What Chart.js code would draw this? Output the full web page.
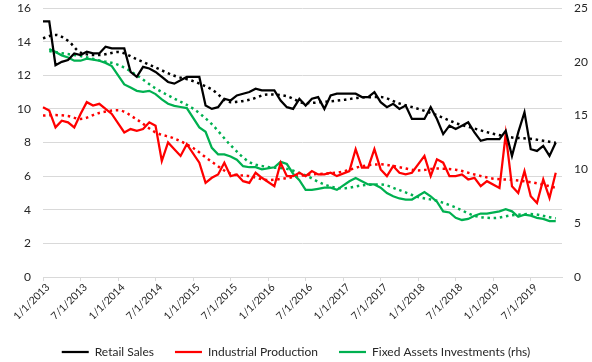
<!DOCTYPE html>
<html>
<head>
<meta charset="utf-8">
<script src="https://cdn.jsdelivr.net/npm/chart.js@4.4.1/dist/chart.umd.min.js"></script>
<style>
  html, body { margin: 0; background: #fff; }
  #wrap { width: 592px; height: 362px; }
</style>
</head>
<body>
<div id="wrap"><canvas id="chart"></canvas></div>
<script>
// monthly categories, Jan 2013 .. Dec 2019
const months = [];
for (let y = 2013; y <= 2019; y++) {
    for (let m = 1; m <= 12; m++) months.push(m + '/1/' + y);
}

const retailSales = [
    15.2, 15.2, 12.6, 12.8, 12.9, 13.3, 13.2, 13.4, 13.3, 13.3, 13.7, 13.6,
    13.6, 13.6, 12.2, 11.9, 12.5, 12.4, 12.2, 11.9, 11.6, 11.5, 11.7, 11.9,
    11.9, 11.9, 10.2, 10.0, 10.1, 10.6, 10.5, 10.8, 10.9, 11.0, 11.2, 11.1,
    11.1, 11.1, 10.5, 10.1, 10.0, 10.6, 10.2, 10.6, 10.7, 10.0, 10.8, 10.9,
    10.9, 10.9, 10.9, 10.7, 10.7, 11.0, 10.4, 10.1, 10.3, 10.0, 10.2, 9.4,
    9.4, 9.4, 10.1, 9.4, 8.5, 9.0, 8.8, 9.0, 9.2, 8.6, 8.1, 8.2,
    8.2, 8.2, 8.7, 7.2, 8.6, 9.8, 7.6, 7.5, 7.8, 7.2, 8.0, null
];

const industrialProduction = [
    10.1, 9.9, 8.9, 9.3, 9.2, 8.9, 9.7, 10.4, 10.2, 10.3, 10.0, 9.7,
    null, 8.6, 8.8, 8.7, 8.8, 9.2, 9.0, 6.9, 8.0, 7.6, 7.2, 7.9,
    null, 6.8, 5.6, 5.9, 6.1, 6.8, 6.0, 6.1, 5.7, 5.6, 6.2, 5.9,
    null, 5.4, 6.8, 6.0, 6.0, 6.2, 6.0, 6.3, 6.1, 6.1, 6.2, 6.0,
    null, 6.3, 7.6, 6.5, 6.5, 7.6, 6.4, 6.0, 6.6, 6.2, 6.1, 6.2,
    null, 7.2, 6.0, 7.0, 6.8, 6.0, 6.0, 6.1, 5.8, 5.9, 5.4, 5.7,
    null, 5.3, 8.5, 5.4, 5.0, 6.3, 4.8, 4.4, 5.8, 4.7, 6.2, null
];

const fixedAssets = [
    null, 21.2, 20.9, 20.6, 20.4, 20.1, 20.1, 20.3, 20.2, 20.1, 19.9, 19.6,
    null, 17.9, 17.6, 17.3, 17.2, 17.3, 17.0, 16.5, 16.1, 15.9, 15.8, 15.7,
    null, 13.9, 13.5, 12.0, 11.4, 11.4, 11.2, 10.9, 10.3, 10.2, 10.2, 10.0,
    null, 10.2, 10.7, 10.5, 9.6, 9.0, 8.1, 8.1, 8.2, 8.3, 8.3, 8.1,
    null, 8.9, 9.2, 8.9, 8.6, 8.6, 8.3, 7.8, 7.5, 7.3, 7.2, 7.2,
    null, 7.9, 7.5, 7.0, 6.1, 6.0, 5.5, 5.3, 5.4, 5.7, 5.9, 5.9,
    null, 6.1, 6.3, 6.1, 5.6, 5.8, 5.7, 5.5, 5.4, 5.2, 5.2, null
];

// dotted trend lines, every few months
const trendMonths = [0, 2, 4, 6, 9, 12, 15, 18, 21, 24, 27, 30, 33, 36, 39, 42,
    45, 48, 51, 54, 57, 60, 63, 66, 69, 72, 75, 78, 81, 82];
const retailTrend = [14.2, 14.4, 14.05, 13.35, 13.2, 13.38, 12.95, 12.46, 11.97, 11.65, 11.15,
    10.4, 10.54, 10.86, 10.75, 10.34, 10.42, 10.53, 10.68, 10.7, 10.32,
    10.0, 9.62, 9.16, 8.83, 8.52, 8.3, 8.22, 8.04, 7.98];
const industryTrend = [9.6, 9.63, 9.57, 9.4, 9.76, 9.92, 9.37, 8.6, 8.24, 7.67, 6.85,
    6.15, 6.0, 5.77, 5.88, 6.07, 6.15, 6.27, 6.59, 6.7, 6.53,
    6.34, 6.45, 6.38, 6.1, 5.85, 5.78, 5.64, 5.4, 5.3];
const fixedTrendMonths = [1, 3, 6, 9, 12, 15, 18, 21, 24, 27, 30, 33, 36, 39, 42,
    45, 48, 51, 54, 57, 60, 63, 66, 69, 72, 75, 78, 81, 82];
const fixedTrend = [21.0, 20.8, 20.53, 20.13, 19.72, 18.75, 17.53, 16.58, 15.65, 14.2,
    12.25, 10.68, 10.22, 10.05, 9.44, 8.6, 8.24, 8.51, 8.6, 8.07,
    7.43, 7.08, 6.46, 5.69, 5.48, 5.74, 5.85, 5.56, 5.45];

const leftTicks = [0, 2, 4, 6, 8, 10, 12, 14, 16];
const rightTicks = [0, 5, 10, 15, 20, 25];

const gridColor = '#d9d9d9';
const textColor = '#262626';
const clear = 'rgba(0,0,0,0)';

function trendPoints(idx, vals) {
    return idx.map((m, k) => ({ x: months[m], y: vals[k] }));
}

function mainLine(label, data, color, axis) {
    return {
        label: label, data: data, yAxisID: axis,
        borderColor: color, backgroundColor: color,
        borderWidth: 2.25, pointRadius: 0, spanGaps: true, tension: 0
    };
}

function trendLine(data, color, axis) {
    return {
        label: 'trend', data: data, yAxisID: axis,
        borderColor: color, borderWidth: 2.5, borderDash: [2.5, 3.7],
        pointRadius: 0, cubicInterpolationMode: 'monotone', spanGaps: true
    };
}

// push the legend down a little, the way the original sits
const legendShift = {
    id: 'legendShift',
    afterLayout(chart) {
        if (chart.legend) {
            chart.legend.top += 6;
            chart.legend.bottom += 6;
        }
    }
};

new Chart(document.getElementById('chart'), {
    type: 'line',
    data: {
        labels: months,
        datasets: [
            mainLine('Retail Sales', retailSales, '#000000', 'y'),
            mainLine('Industrial Production', industrialProduction, '#ff0000', 'y'),
            mainLine('Fixed Assets Investments (rhs)', fixedAssets, '#00b050', 'y2'),
            trendLine(trendPoints(trendMonths, retailTrend), '#000000', 'y'),
            trendLine(trendPoints(trendMonths, industryTrend), '#ff0000', 'y'),
            trendLine(trendPoints(fixedTrendMonths, fixedTrend), '#00b050', 'y2')
        ]
    },
    plugins: [legendShift],
    options: {
        responsive: true,
        maintainAspectRatio: false,
        animation: false,
        layout: { padding: { top: 8, left: 0, right: 0, bottom: 0 } },
        font: { family: 'Lato', size: 12 },
        plugins: {
            tooltip: { enabled: false },
            legend: {
                position: 'bottom',
                labels: {
                    color: textColor,
                    font: { family: 'Lato', size: 12 },
                    usePointStyle: true,
                    pointStyle: 'line',
                    pointStyleWidth: 27,
                    padding: 21,
                    filter: item => item.datasetIndex < 3
                }
            }
        },
        scales: {
            x: {
                offset: false,
                grid: {
                    display: true,
                    drawOnChartArea: false,
                    drawTicks: true,
                    tickLength: 4,
                    tickColor: ctx => (ctx.index % 6 === 0 ? gridColor : clear)
                },
                border: { display: true, color: gridColor },
                ticks: {
                    autoSkip: false,
                    maxRotation: 45,
                    minRotation: 45,
                    padding: 0,
                    labelOffset: 5,
                    color: textColor,
                    font: { family: 'Lato', size: 10.5 },
                    callback: function (val, i) { return i % 6 === 0 ? months[i] : ''; }
                },
                afterFit: scale => { scale.height = 42; }
            },
            y: {
                position: 'left',
                min: 0, max: 16,
                afterBuildTicks: scale => { scale.ticks = leftTicks.map(v => ({ value: v })); },
                grid: { color: gridColor, drawTicks: true, tickLength: 12, tickColor: clear },
                border: { display: false },
                ticks: { padding: 0, color: textColor, font: { family: 'Lato', size: 12 } },
                afterFit: scale => { scale.width = 43; }
            },
            y2: {
                position: 'right',
                min: 0, max: 25,
                afterBuildTicks: scale => { scale.ticks = rightTicks.map(v => ({ value: v })); },
                grid: { display: false, drawTicks: true, tickLength: 12 },
                border: { display: false },
                ticks: { padding: 0, color: textColor, font: { family: 'Lato', size: 12 } },
                afterFit: scale => { scale.width = 30; }
            }
        }
    }
});
</script>
</body>
</html>
